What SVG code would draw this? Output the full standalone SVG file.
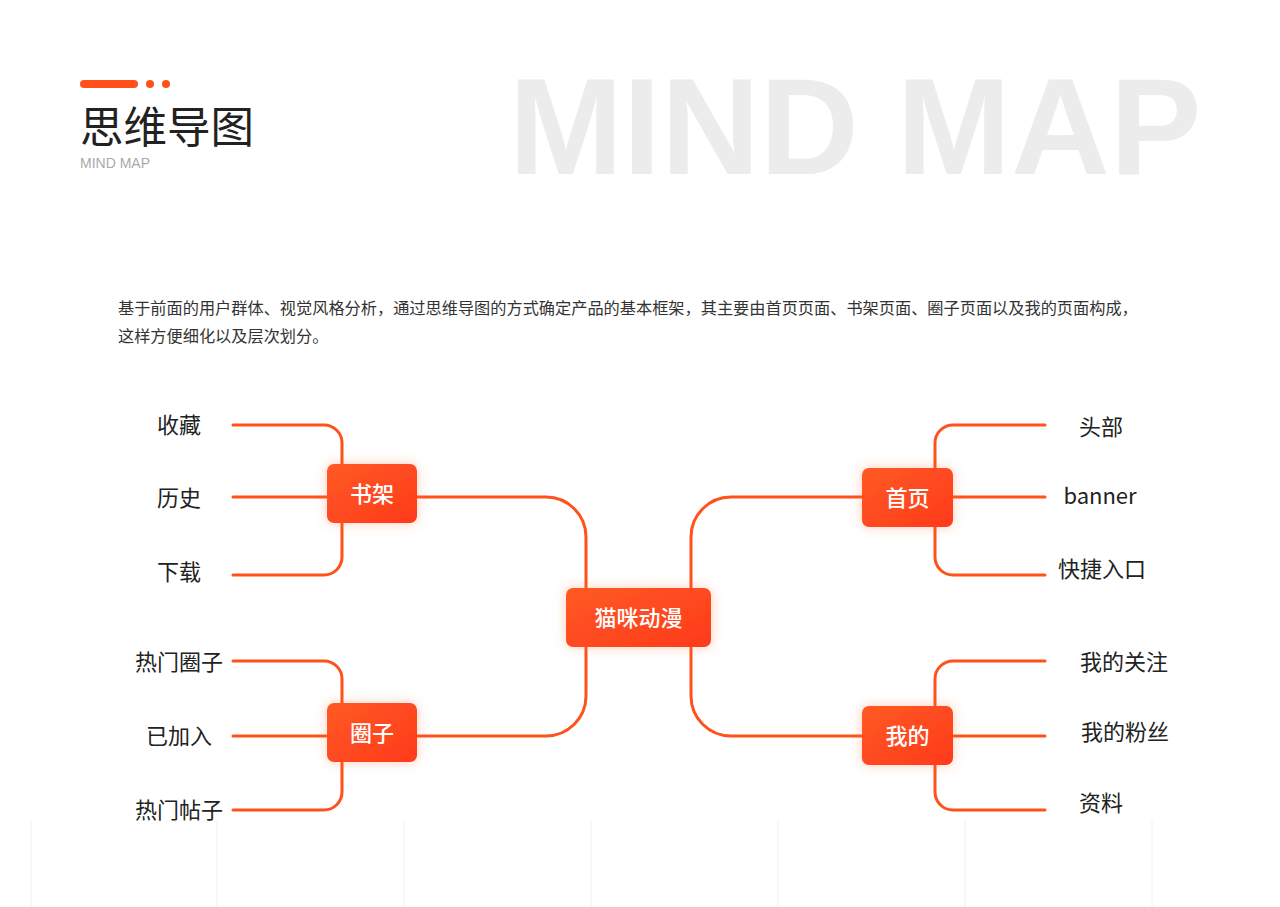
<svg xmlns="http://www.w3.org/2000/svg" width="1280" height="907" viewBox="0 0 1280 907">
<defs>
<linearGradient id="g" x1="0" y1="0" x2="1" y2="1"><stop offset="0" stop-color="#ff5a24"/><stop offset="1" stop-color="#ff3a1c"/></linearGradient>
<filter id="sh" x="-50%" y="-50%" width="200%" height="200%"><feGaussianBlur in="SourceAlpha" stdDeviation="8"/><feFlood flood-color="#ff6a30" flood-opacity="0.35"/><feComposite operator="in" in2="SourceAlpha"/><feGaussianBlur stdDeviation="6"/><feMerge><feMergeNode/><feMergeNode in="SourceGraphic"/></feMerge></filter>
</defs>
<style>
.l{fill:none;stroke:#ff5119;stroke-width:3;stroke-linecap:round}
.g{stroke:#f0f0f0;stroke-width:1}
.b{fill:url(#g);filter:url(#sh)}
.bt{font-family:"Noto Sans CJK SC",sans-serif;font-size:22px;fill:#fff;text-anchor:middle;font-weight:500}
.t{font-family:"Noto Sans CJK SC",sans-serif;font-size:22px;fill:#222;text-anchor:middle}
</style>
<rect width="1280" height="907" fill="#fff"/>
<g class="g"><line x1="31" y1="820" x2="31" y2="907"/><line x1="217" y1="820" x2="217" y2="907"/><line x1="404" y1="820" x2="404" y2="907"/><line x1="591" y1="820" x2="591" y2="907"/><line x1="778" y1="820" x2="778" y2="907"/><line x1="965" y1="820" x2="965" y2="907"/><line x1="1152" y1="820" x2="1152" y2="907"/></g>
<text x="855" y="174" font-family="'Liberation Sans',sans-serif" font-weight="bold" font-size="137" fill="#ececec" text-anchor="middle">MIND MAP</text>
<rect x="80" y="80" width="58" height="8" rx="4" fill="#ff5119"/>
<circle cx="150" cy="84" r="4" fill="#ff5119"/><circle cx="166" cy="84" r="4" fill="#ff5119"/>
<text x="80" y="143" font-family="'Noto Sans CJK SC',sans-serif" font-size="43.5" fill="#222">思维导图</text>
<text x="80" y="168" font-family="'Liberation Sans',sans-serif" font-size="14" fill="#aaa">MIND MAP</text>
<text font-family="'Noto Sans CJK SC',sans-serif" font-size="16.2" fill="#333"><tspan x="118" y="314">基于前面的用户群体、视觉风格分析，通过思维导图的方式确定产品的基本框架，其主要由首页页面、书架页面、圈子页面以及我的页面构成，</tspan><tspan x="118" y="342">这样方便细化以及层次划分。</tspan></text>
<g id="connectors">
<path class="l" d="M417 497 H546 A40 40 0 0 1 586 537 V588"/>
<path class="l" d="M417 736 H546 A40 40 0 0 0 586 696 V647"/>
<path class="l" d="M862 497 H731 A40 40 0 0 0 691 537 V588"/>
<path class="l" d="M862 736 H731 A40 40 0 0 1 691 696 V647"/>
<path class="l" d="M233 425 H324 A18 18 0 0 1 342 443 V557 A18 18 0 0 1 324 575 H233 M233 497 H342"/>
<path class="l" d="M233 661 H324 A18 18 0 0 1 342 679 V792 A18 18 0 0 1 324 810 H233 M233 736 H342"/>
<path class="l" d="M1045 425 H953 A18 18 0 0 0 935 443 V557 A18 18 0 0 0 953 575 H1045 M1045 497 H935"/>
<path class="l" d="M1045 661 H953 A18 18 0 0 0 935 679 V792 A18 18 0 0 0 953 810 H1045 M1045 736 H935"/>
</g>
<g id="n-center"><rect class="b" x="566" y="588" width="145" height="59" rx="7"/><text class="bt" x="638.5" y="626">猫咪动漫</text></g>
<g id="n-shujia"><rect class="b" x="327" y="464" width="90" height="59" rx="7"/><text class="bt" x="372" y="502">书架</text></g>
<g id="n-quanzi"><rect class="b" x="327" y="703" width="90" height="59" rx="7"/><text class="bt" x="372" y="741">圈子</text></g>
<g id="n-shouye"><rect class="b" x="862" y="468" width="91" height="59" rx="7"/><text class="bt" x="907.5" y="506">首页</text></g>
<g id="n-wode"><rect class="b" x="862" y="706" width="91" height="59" rx="7"/><text class="bt" x="907.5" y="744">我的</text></g>
<g id="n-l1"><text class="t" x="179" y="433">收藏</text></g>
<g id="n-l2"><text class="t" x="179" y="506">历史</text></g>
<g id="n-l3"><text class="t" x="179" y="580">下载</text></g>
<g id="n-l4"><text class="t" x="179" y="670">热门圈子</text></g>
<g id="n-l5"><text class="t" x="179" y="744">已加入</text></g>
<g id="n-l6"><text class="t" x="179" y="818">热门帖子</text></g>
<g id="n-r1"><text class="t" x="1101" y="435">头部</text></g>
<g id="n-r2"><text class="t" x="1100" y="504" font-family="'Liberation Sans',sans-serif">banner</text></g>
<g id="n-r3"><text class="t" x="1102" y="577">快捷入口</text></g>
<g id="n-r4"><text class="t" x="1124" y="670">我的关注</text></g>
<g id="n-r5"><text class="t" x="1125" y="740">我的粉丝</text></g>
<g id="n-r6"><text class="t" x="1101" y="811">资料</text></g>
</svg>
